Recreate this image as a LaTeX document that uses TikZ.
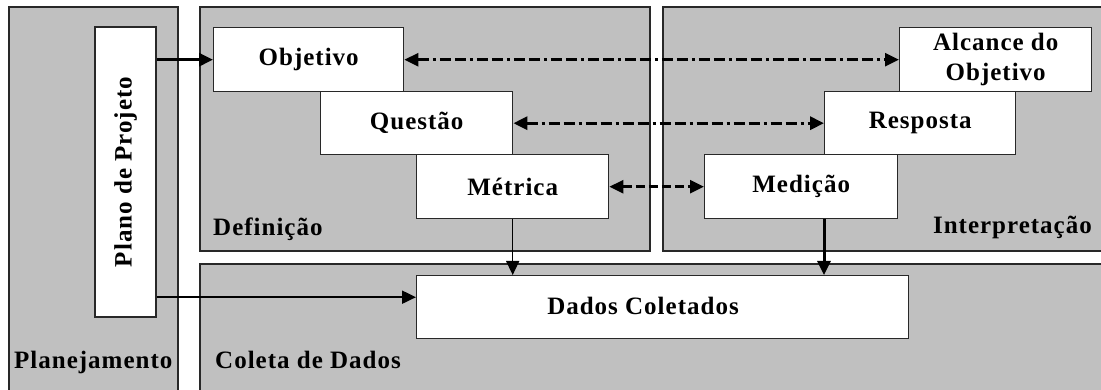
\documentclass[tikz,border=0pt]{standalone}
\usepackage{fontspec}
\setmainfont{Liberation Serif}
\usetikzlibrary{arrows.meta,calc}
\definecolor{panelgray}{RGB}{192,192,192}
\definecolor{edge}{RGB}{40,40,40}
\begin{document}
\begin{tikzpicture}[x=1pt,y=-1pt,
  panel/.style={draw=edge, fill=panelgray, line width=1.4pt},
  box/.style={draw=edge, fill=white, line width=1.4pt, inner sep=0pt,
    font=\fontsize{25}{30}\selectfont\bfseries\addfontfeature{LetterSpace=4}},
  lbl/.style={inner sep=0pt, font=\fontsize{25}{30}\selectfont\bfseries\addfontfeature{LetterSpace=4}},
  tip/.style={-{Triangle[length=14pt,width=13pt]}},
  dtip/.style={{Triangle[length=14pt,width=13pt]}-{Triangle[length=14pt,width=13pt]}},
  dashdot/.style={dash pattern=on 11pt off 4pt on 3pt off 4pt on 11pt off 4pt},
  shortdash/.style={dash pattern=on 9pt off 4pt}]
\useasboundingbox (0,0) rectangle (1101,390);
\clip (0,0) rectangle (1101,390);
\fill[white] (0,0) rectangle (1101,390);
% panels
\draw[panel] (9,7) rectangle (178,400);
\draw[panel] (200,7) rectangle (650,251);
\draw[panel] (663,7) rectangle (1115,251);
\draw[panel] (200,264) rectangle (1115,400);
% panel labels
\node[lbl, anchor=base west] (deflbl) at (213,236) {Definição};
\node[lbl, anchor=base east] (intlbl) at (1092,234) {Interpretação};
\node[lbl, anchor=base west] (planlbl) at (14,368) {Planejamento};
\node[lbl, anchor=base west] (collbl) at (215,368) {Coleta de Dados};
% boxes
\node[box, rotate=90, minimum width=290pt, minimum height=61pt] (plano) at (125.5,172) {Plano de Projeto};
\node[box, anchor=north west, minimum width=190pt, minimum height=64pt] (obj) at (213,27) {Objetivo};
\node[box, anchor=north west, minimum width=192pt, minimum height=63pt] (que) at (320,91) {Questão};
\node[box, anchor=north west, minimum width=192pt, minimum height=64pt] (met) at (416,154) {Métrica};
\node[box, anchor=north west, minimum width=193pt, minimum height=64pt] (med) at (704,154) {Medição};
\node[box, anchor=north west, minimum width=191pt, minimum height=63pt] (res) at (824,91) {Resposta};
\node[box, anchor=north west, minimum width=192pt, minimum height=64pt, align=center] (alc) at (899,27) {Alcance do\\Objetivo};
\node[box, anchor=north west, minimum width=492pt, minimum height=63pt] (dados) at (416,275) {};
\node[lbl] (dadoslbl) at (643,306) {Dados Coletados};
% connectors
\draw[tip, line width=3pt] (plano.south |- obj.west) -- (obj.west);
\draw[tip, line width=2pt] (plano.south |- {$(dados.west)+(0,-10)$}) -- ($(dados.west)+(0,-10)$);
\draw[dtip, dashdot, line width=2.6pt] (obj.east) -- (alc.west);
\draw[dtip, dashdot, line width=3.2pt] (que.east) -- (res.west);
\draw[dtip, shortdash, line width=2.6pt] (met.east) -- (med.west);
\draw[tip, line width=1.5pt] (met.south) -- (met.south |- dados.north);
\draw[tip, line width=3pt] (med.south -| res.west) -- (dados.north -| res.west);
\end{tikzpicture}
\end{document}
